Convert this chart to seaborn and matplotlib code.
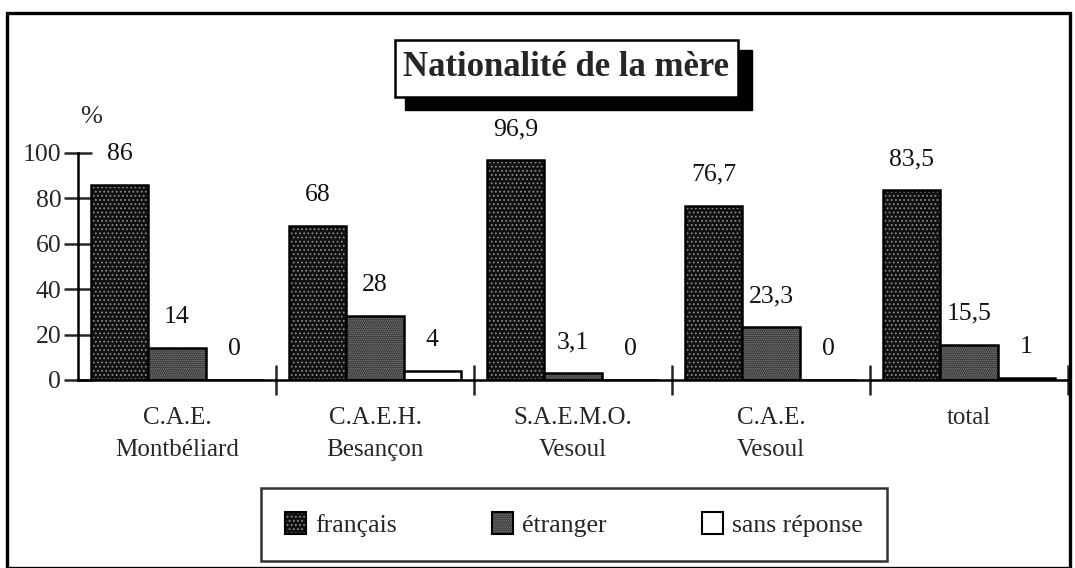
import matplotlib
matplotlib.use("Agg")
import matplotlib.pyplot as plt
import matplotlib.colors as mcolors
from matplotlib.patches import Rectangle, Patch
import seaborn as sns
import pandas as pd

categories = ["C.A.E.\nMontbéliard", "C.A.E.H.\nBesançon", "S.A.E.M.O.\nVesoul", "C.A.E.\nVesoul", "total"]
francais = [86, 68, 96.9, 76.7, 83.5]
etranger = [14, 28, 3.1, 23.3, 15.5]
sans_reponse = [0, 4, 0, 0, 1]
series_names = ["français", "étranger", "sans réponse"]
y_ticks = [0, 20, 40, 60, 80, 100]

df = pd.DataFrame({
    "cat": categories * 3,
    "serie": [series_names[0]] * 5 + [series_names[1]] * 5 + [series_names[2]] * 5,
    "val": francais + etranger + sans_reponse,
})

sns.set_style("white")
plt.rcParams["font.family"] = ["Liberation Serif", "DejaVu Serif"]
plt.rcParams["hatch.linewidth"] = 0.8

W, H = 1075, 568
fig = plt.figure(figsize=(W / 100, H / 100), dpi=100)
ax = fig.add_axes([78 / W, 1 - 380 / H, (1068 - 78) / W, (380 - 153) / H])

styles = {
    "français": dict(face="#101010", hatch="....", hc="#8a8a8a"),
    "étranger": dict(face="#2e2e2e", hatch="........", hc="#8c8c8c"),
    "sans réponse": dict(face="white", hatch=None, hc="black"),
}

sns.barplot(data=df, x="cat", y="val", hue="serie", hue_order=series_names,
            order=categories, width=0.87, palette=["#101010", "#2e2e2e", "white"],
            ax=ax, legend=False, saturation=1)

for cont, name in zip(ax.containers, series_names):
    st = styles[name]
    for p in cont:
        p.set_facecolor(st["face"])
        p.set_edgecolor("black")
        p.set_linewidth(1.8)
        if st["hatch"]:
            p.set_hatch(st["hatch"])
            p._hatch_color = mcolors.to_rgba(st["hc"])
    labels = [f"{v:g}".replace(".", ",") for v in cont.datavalues]
    for p, lab in zip(cont, labels):
        ax.annotate(lab, (p.get_x() + p.get_width() / 2, p.get_height()),
                    xytext=(0, 31), textcoords="offset pixels",
                    ha="center", va="center", fontsize=18.5, color="#111")

ax.set_xlim(-0.5, 4.5)
ax.set_ylim(0, 100)
ax.set_yticks(y_ticks)
ax.set_yticklabels([str(t) for t in y_ticks], fontsize=18.5)
ax.set_xticks([i + 0.5 for i in range(5)])
ax.set_xticklabels([])
ax.tick_params(axis="y", direction="inout", length=20, width=1.8, pad=2, left=True)
ax.tick_params(axis="x", direction="inout", length=22, width=1.8, bottom=True)
for s in ["top", "right"]:
    ax.spines[s].set_visible(False)
for s in ["left", "bottom"]:
    ax.spines[s].set_linewidth(1.8)
    ax.spines[s].set_color("black")
ax.set_xlabel("")
ax.set_ylabel("")

for i, c in enumerate(categories):
    ax.text(i, -12, c, ha="center", va="top", fontsize=18, linespacing=1.6,
            transform=ax.transData, clip_on=False)

fig.text(80 / W, 1 - 117 / H, "%", fontsize=19, ha="left", va="center")

# Outer frame
fig.add_artist(Rectangle((7 / W, 0), (1070 - 7) / W, 1 - 13 / H,
                         transform=fig.transFigure, fill=False,
                         edgecolor="black", linewidth=2.4))

# Title box with shadow
fig.add_artist(Rectangle((405 / W, 1 - 110 / H), (752 - 405) / W, (110 - 50) / H,
                         transform=fig.transFigure, facecolor="black", edgecolor="black"))
fig.add_artist(Rectangle((395 / W, 1 - 97 / H), (738 - 395) / W, (97 - 40) / H,
                         transform=fig.transFigure, facecolor="white",
                         edgecolor="black", linewidth=1.8))
fig.text(566 / W, 1 - 68 / H, "Nationalité de la mère", fontsize=25,
         fontweight="bold", ha="center", va="center")

# Legend
handles = []
for name in series_names:
    st = styles[name]
    h = Patch(facecolor=st["face"], edgecolor="black", linewidth=1.5,
              hatch=st["hatch"], label=name)
    if st["hatch"]:
        h._hatch_color = mcolors.to_rgba(st["hc"])
    handles.append(h)
leg = fig.legend(handles=handles, labels=series_names, loc="center",
                 bbox_to_anchor=(261 / W, 1 - 565 / H, (887 - 261) / W, (565 - 484) / H),
                 mode="expand", ncol=3, fontsize=18.5, frameon=True, fancybox=False,
                 edgecolor="black", handlelength=0.8, handleheight=0.9,
                 handletextpad=0.35, borderpad=0.95, borderaxespad=0)
leg.get_frame().set_linewidth(1.8)

fig.savefig("out.png", dpi=100)
